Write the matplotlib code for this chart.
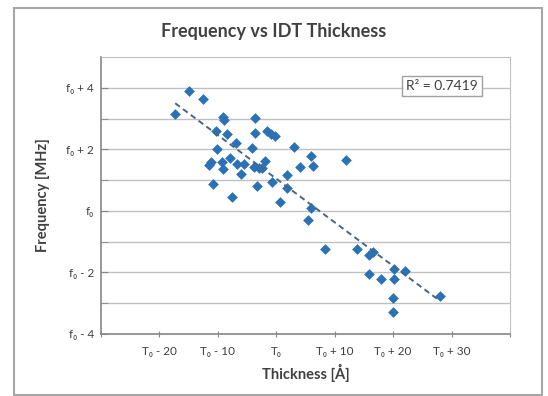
import numpy as np
import matplotlib
matplotlib.use("Agg")
import matplotlib.pyplot as plt
from matplotlib.patches import Rectangle

# thickness offset from T0 [A], frequency offset from f0 [MHz]
thickness = [-17.3, -14.9, -12.5, -9.2, -8.9, -10.3, -8.5, -6.9, -10.2, -11.5,
             -11.1, -9.3, -8.0, -6.7, -5.6, -9.1, -6.0, -10.9, -7.6, -3.6,
             -3.6, -1.6, -0.9, -0.3, -4.1, 3.1, 5.9, 12.0, -2.0, -3.8,
             -3.0, -2.4, 4.0, 6.3, 1.9, -0.8, -3.3, 1.9, 0.7, 5.9,
             5.5, 8.4, 13.8, 15.9, 16.6, 15.9, 17.9, 20.1, 20.1, 19.9,
             19.9, 22.1, 28.0]
frequency = [3.15, 3.89, 3.62, 3.06, 2.94, 2.59, 2.50, 2.19, 2.02, 1.50,
             1.60, 1.58, 1.71, 1.53, 1.53, 1.37, 1.20, 0.88, 0.46, 3.02,
             2.54, 2.59, 2.49, 2.42, 2.04, 2.09, 1.79, 1.66, 1.63, 1.44,
             1.38, 1.38, 1.42, 1.45, 1.18, 0.93, 0.82, 0.73, 0.30, 0.11,
             -0.28, -1.23, -1.24, -1.42, -1.35, -2.04, -2.21, -1.90, -2.21, -2.83,
             -3.29, -1.96, -2.75]

r2_text = "R\u00b2 = 0.7419"
x_ticks = [-30, -20, -10, 0, 10, 20, 30, 40]
x_labels = ["", "T\u2080 - 20", "T\u2080 - 10", "T\u2080", "T\u2080 + 10", "T\u2080 + 20", "T\u2080 + 30", ""]
y_ticks = [-4, -2, 0, 2, 4]
y_labels = ["f\u2080 - 4", "f\u2080 - 2", "f\u2080", "f\u2080 + 2", "f\u2080 + 4"]

plt.rcParams['font.family'] = ['Lato', 'DejaVu Sans']

fig = plt.figure(figsize=(5.48, 3.96), dpi=100)
ax = fig.add_axes([101/548, 1-334/396, 409/548, 277/396])

x = np.array(thickness)
y = np.array(frequency)
ax.scatter(x, y, marker='D', s=30, color='#2a72b5', zorder=3, linewidths=0)

# linear trendline over the data range
k, b = np.polyfit(x, y, 1)
xs = np.array([x.min(), x.max()])
ax.plot(xs, k*xs + b, ls=(0, (3, 2)), color='#4b6580', lw=1.4, zorder=4)

ax.set_xlim(-30, 40)
ax.set_ylim(-4, 5)
ax.set_xticks(x_ticks)
ax.set_xticklabels(x_labels)
ax.set_yticks(y_ticks)
ax.set_yticklabels(y_labels)
ax.set_yticks(np.arange(-3, 5, 2), minor=True)
ax.yaxis.grid(True, which='both', color='#c0c0c0', lw=1)
ax.set_axisbelow(True)
ax.tick_params(axis='x', direction='inout', length=5, color='#868686', labelsize=8.5,
               labelcolor='#404040', pad=6)
ax.tick_params(axis='y', which='both', direction='in', length=5, color='#868686',
               labelsize=8.5, labelcolor='#404040', pad=5)
for side in ['left', 'bottom']:
    ax.spines[side].set_color('#868686')
    ax.spines[side].set_linewidth(1.2)
for side in ['top', 'right']:
    ax.spines[side].set_color('#c0c0c0')

ax.set_xlabel("Thickness [\u00c5]", fontsize=10.5, fontweight='bold', color='#404040', labelpad=5)
ax.set_ylabel("Frequency [MHz]", fontsize=10.5, fontweight='bold', color='#404040', labelpad=12)

fig.text(0.5, 1-32/396, "Frequency vs IDT Thickness", ha='center', va='center',
         fontsize=13, fontweight='bold', color='#404040')
fig.text(442/548, 1-86/396, r2_text, ha='center', va='center', fontsize=10, color='#404040',
         bbox=dict(boxstyle='square,pad=0.3', fc='white', ec='#a0a0a0', lw=1))

fig.patches.append(Rectangle((14/548, 1/396), 528/548, 387/396, transform=fig.transFigure,
                             fill=False, ec='#a6a6a6', lw=1.5))

fig.savefig("out.png", dpi=100)
